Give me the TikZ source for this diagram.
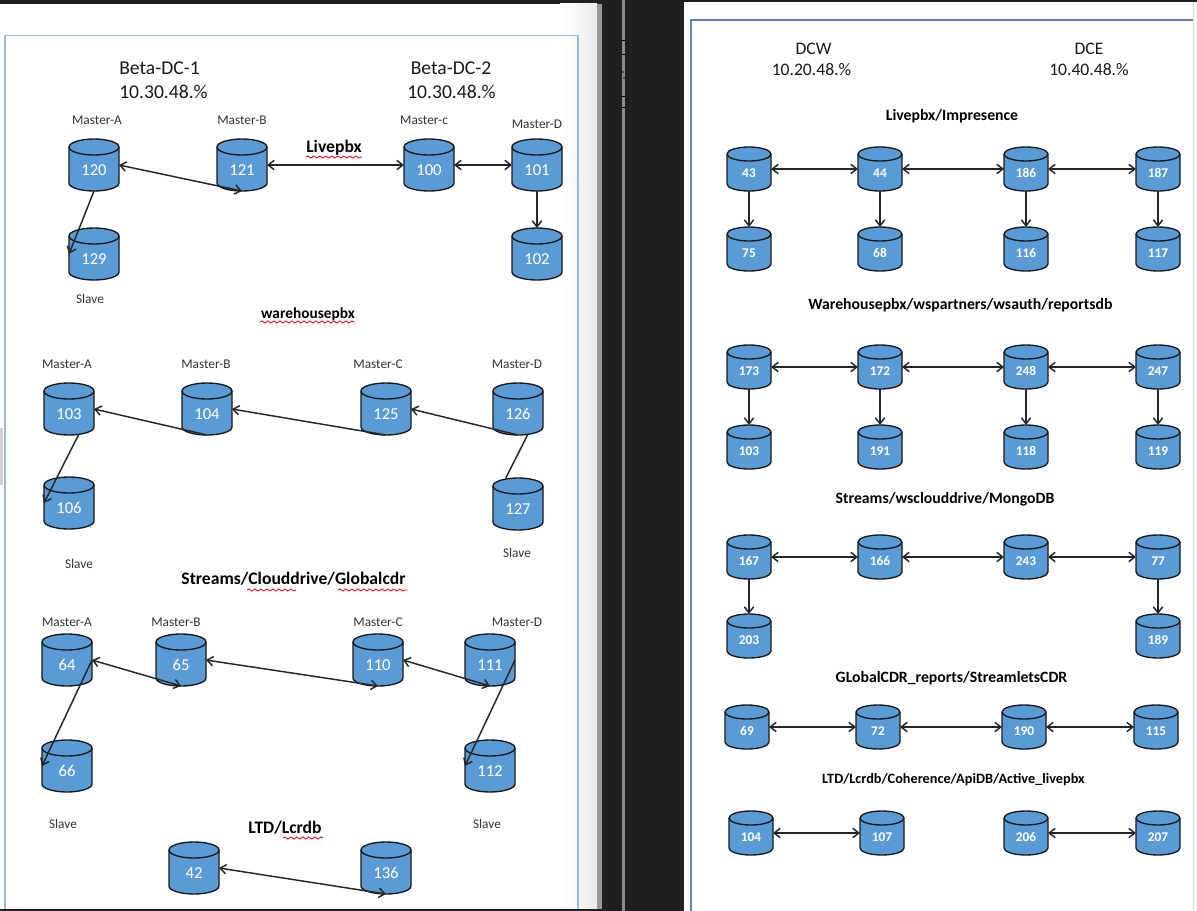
\documentclass[tikz,border=0pt]{standalone}
\usepackage{fontspec}
\setmainfont{Carlito}
\usetikzlibrary{arrows.meta,decorations.pathmorphing,calc}
\definecolor{dbfill}{HTML}{5B9BD5}
\definecolor{darkbg}{HTML}{1F2021}
\definecolor{frameL}{HTML}{9DB9D6}
\definecolor{frameR}{HTML}{5F86B0}
\tikzset{
  x=0.75pt,y=-0.75pt,
  dbshape/.style={draw=black!90,line width=1pt,fill=dbfill,line join=round},
  dbl/.style={rectangle,minimum width=37.5pt,minimum height=39pt,inner sep=0pt,outer sep=0pt,text=white,
     text height=15.2pt,text depth=0pt,font=\fontsize{12.5}{13}\selectfont},
  dbr/.style={rectangle,minimum width=33pt,minimum height=33pt,inner sep=0pt,outer sep=0pt,text=white,
     text height=13pt,text depth=0pt,font=\fontsize{10}{11}\selectfont\bfseries},
  link/.style={draw=black!85,line width=1.1pt},
  oneway/.style={link,-{Straight Barb[length=4.5pt,width=7pt]}},
  twoway/.style={link,{Straight Barb[length=4.5pt,width=7pt]}-{Straight Barb[length=4.5pt,width=7pt]}},
  sm/.style={font=\fontsize{10}{11}\selectfont,text=black!80,inner sep=0pt,yshift=-0.6pt},
  big/.style={font=\fontsize{14.7}{16}\selectfont,inner sep=0pt,text=black!90,yshift=-0.7pt},
  med/.style={font=\fontsize{13.2}{14}\selectfont,inner sep=0pt,text=black!90,yshift=-0.6pt},
  hl/.style={font=\fontsize{13.2}{14}\selectfont\bfseries,inner sep=0pt,yshift=-0.7pt},
  hlw/.style={font=\fontsize{11.5}{13}\selectfont\bfseries,inner sep=0pt,yshift=-0.7pt},
  hr/.style={font=\fontsize{11.8}{13}\selectfont\bfseries,inner sep=0pt,yshift=-0.7pt},
  hrs/.style={font=\fontsize{10.7}{13}\selectfont\bfseries,inner sep=0pt,yshift=-0.7pt},
  wavy/.style={draw=red!85!black,line width=0.6pt,decorate,decoration={snake,amplitude=0.8pt,segment length=4.5pt}},
}
\newcommand{\squig}[3]{\draw[wavy] (#1,#3) -- (#2,#3);}
% x, y, label, half width, half height, ellipse height (all in pixels)
\newcommand{\dbshapeat}[6]{%
  \pgfmathsetmacro{\Rx}{#4*0.75}\pgfmathsetmacro{\Ry}{#6*0.75}%
  \draw[dbshape] ({#1-#4},{#2-#5+#6}) arc[start angle=180,end angle=0,x radius=\Rx pt,y radius=\Ry pt]
     -- ({#1+#4},{#2+#5-#6}) arc[start angle=0,end angle=-180,x radius=\Rx pt,y radius=\Ry pt] -- cycle;
  \draw[dbshape,fill=none] ({#1-#4},{#2-#5+#6}) arc[start angle=180,end angle=360,x radius=\Rx pt,y radius=\Ry pt];
}
\begin{document}
\begin{tikzpicture}
\useasboundingbox (0,0) rectangle (1197,911);
% backgrounds
\fill[darkbg] (0,0) rectangle (1197,911);
\fill[white] (0,3.5) rectangle (560,908.5);
\shade[left color=white,right color=black!8] (560,3.5) rectangle (597,908.5);
\fill[black!40] (597,3.5) rectangle (602,908.5);
\fill[black!45] (621.5,0) rectangle (625,911);
\fill[white] (684,2) rectangle (1197,911);
\fill[black!18] (0,428) rectangle (3,485);
\foreach \yy in {40,54,96,107} \draw[black,line width=0.6pt] (622,\yy) -- (624.5,\yy);
\fill[black!70] (622,71) rectangle (624,73) (623,77) rectangle (625,79);
\draw[frameL,line width=1pt] (5,908.5) -- (5,35.5) -- (578,35.5) -- (578,908.5);
\draw[frameR,line width=1pt] (691,911) -- (691,20) -- (1193,20);
\draw[black!15,line width=0.5pt] (1193,2) -- (1193,911);
% left headings
\node[big] at (159.5,67) {Beta-DC-1};
\node[big] at (163.5,91) {10.30.48.\%};
\node[big] at (451,67) {Beta-DC-2};
\node[big] at (451.5,91) {10.30.48.\%};
\node[sm] at (97,119) {Master-A};
\node[sm] at (242,119) {Master-B};
\node[sm] at (424,119) {Master-c};
\node[sm] at (537,123) {Master-D};
\node[hl] at (334,147) {Livepbx};
\squig{306}{362}{157}
\node[sm] at (90,298) {Slave};
\node[hlw] at (308,313) {warehousepbx};
\squig{260}{355}{322}
\node[sm] at (67,363) {Master-A};
\node[sm] at (206,363) {Master-B};
\node[sm] at (378,363) {Master-C};
\node[sm] at (517,363) {Master-D};
\node[sm] at (79,563) {Slave};
\node[sm] at (517,552) {Slave};
\node[hl] at (293.5,578) {Streams/Clouddrive/Globalcdr};
\squig{247}{296}{590}
\squig{338}{407}{590}
\node[sm] at (67,621) {Master-A};
\node[sm] at (176,621) {Master-B};
\node[sm] at (378,621) {Master-C};
\node[sm] at (517,621) {Master-D};
\node[sm] at (63,823) {Slave};
\node[sm] at (487,823) {Slave};
\node[hl] at (285,827) {LTD/Lcrdb};
\squig{283}{323}{838}
% left cylinders
\foreach \nm/\xx/\yy/\tx in {a120/94/165/120,a121/242/165/121,a100/429/165/100,a101/537/165/101,a129/94/254/129,a102/537/254/102,
  b103/69/409/103,b104/207/409/104,b125/386/409/125,b126/518/409/126,b106/69/503/106,b127/518/504/127,
  c64/67/660/64,c65/181/660/65,c110/378/660/110,c111/490/660/111,c66/67/766/66,c112/490/766/112,
  d42/194/868/42,d136/386/868/136}{
  \dbshapeat{\xx}{\yy}{\tx}{25}{26}{8}
  \node[dbl] (\nm) at (\xx,\yy) {\tx};
}
% left connectors
\draw[twoway] (a120.east) -- (a121.south);
\draw[twoway] (a121.east) -- (a100.west);
\draw[twoway] (a100.east) -- (a101.west);
\draw[oneway] (a120.south) -- (a129.west);
\draw[oneway] (a101.south) -- (a102.north);
\draw[oneway] (b104.south) -- (b103.east);
\draw[oneway] (b125.south) -- (b104.east);
\draw[oneway] (b126.south) -- (b125.east);
\draw[link] (b126.-70) -- (b127.115);
\draw[oneway] (b103.-70) -- (b106.west);
\draw[twoway] (c64.east) -- (c65.south);
\draw[twoway] (c65.east) -- (c110.south);
\draw[twoway] (c110.east) -- (c111.south);
\draw[oneway] (c64.east) -- (c66.west);
\draw[oneway] (c111.east) -- (c112.west);
\draw[twoway] (d42.east) -- (d136.south);
% right headings
\node[med] at (813.5,48) {DCW};
\node[med] at (811.5,69) {10.20.48.\%};
\node[med] at (1089,48) {DCE};
\node[med] at (1089,69) {10.40.48.\%};
\node[hr] at (952,115) {Livepbx/Impresence};
\node[hr] at (960.5,304) {Warehousepbx/wspartners/wsauth/reportsdb};
\node[hr] at (945,498) {Streams/wsclouddrive/MongoDB};
\node[hr] at (951.5,677) {GLobalCDR\_reports/StreamletsCDR};
\node[hrs] at (953.5,779) {LTD/Lcrdb/Coherence/ApiDB/Active\_livepbx};
% right cylinders
\foreach \nm/\xx/\yy/\tx in {e43/749/169/43,e44/880/169/44,e186/1026/169/186,e187/1158/169/187,e75/749/249/75,e68/880/249/68,e116/1026/249/116,e117/1158/249/117,
  f173/749/367/173,f172/880/367/172,f248/1026/367/248,f247/1158/367/247,f103/749/447/103,f191/880/447/191,f118/1026/447/118,f119/1158/447/119,
  g167/749/557/167,g166/880/557/166,g243/1026/557/243,g77/1158/557/77,g203/749/636/203,g189/1158/636/189,
  h69/747/727/69,h72/878/727/72,h190/1024/727/190,h115/1156/727/115,
  i104/751/833/104,i107/882/833/107,i206/1026/833/206,i207/1158/833/207}{
  \dbshapeat{\xx}{\yy}{\tx}{22}{22}{7}
  \node[dbr] (\nm) at (\xx,\yy) {\tx};
}
% right connectors
\foreach \p/\q in {e43/e44,e44/e186,e186/e187,f173/f172,f172/f248,f248/f247,g167/g166,g166/g243,g243/g77,h69/h72,h72/h190,h190/h115,i104/i107,i206/i207}
  \draw[twoway] (\p.east) -- (\q.west);
\foreach \p/\q in {e43/e75,e44/e68,e186/e116,e187/e117,f173/f103,f172/f191,f248/f118,f247/f119,g167/g203,g77/g189}
  \draw[oneway] (\p.south) -- (\q.north);
\end{tikzpicture}
\end{document}
